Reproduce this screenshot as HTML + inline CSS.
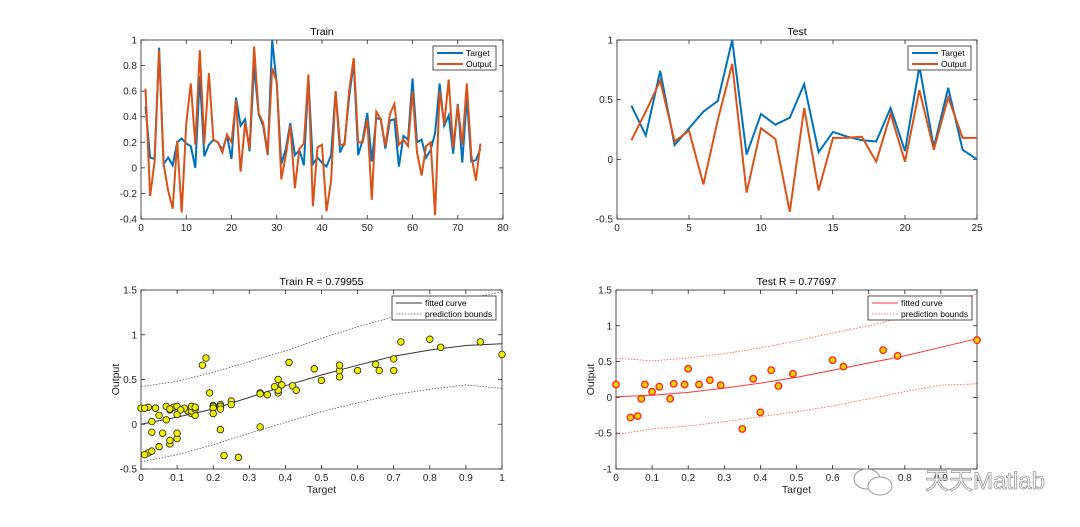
<!DOCTYPE html>
<html><head><meta charset="utf-8"><style>
body{margin:0;background:#fff;}
svg{display:block;font-family:"Liberation Sans",Arial,sans-serif;}
</style></head><body>
<svg id="fig" width="1080" height="527" viewBox="0 0 1080 527" xmlns="http://www.w3.org/2000/svg">
<rect width="1080" height="527" fill="#fff"/>
</svg>
<script>
const trainTarget=[.48,.08,.07,.94,.03,.08,.02,.2,.23,.19,.17,0,.72,.09,.18,.22,.2,.14,.25,.07,.55,.33,.38,.13,.8,.42,.33,.1,1.0,.65,.03,.15,.35,.1,.14,.02,.7,.03,.08,.04,.01,.1,.6,.12,.2,.55,.83,.1,.22,.43,.05,.39,.38,.15,.37,.38,.01,.25,.22,.7,.2,.22,.08,.14,.27,.66,.33,.41,.11,.5,.04,.55,.05,.06,.15];
const trainOutput=[.62,-.22,.05,.92,.03,-.18,-.32,.21,-.35,.35,.66,.18,.92,.19,.74,.22,.2,.12,.26,.2,.53,-.03,.35,.15,.95,.43,.35,.11,.78,.67,-.09,.1,.33,-.16,.15,.19,.73,-.3,.16,.18,-.34,-.1,.6,.18,.18,.6,.86,.2,.2,.38,-.25,.44,.38,.17,.42,.5,.18,.22,.17,.6,.12,-.06,.17,.2,-.37,.6,.34,.69,.16,.49,.18,.66,.1,-.1,.19];
const testTarget=[.45,.2,.74,.12,.26,.4,.49,1.0,.04,.38,.29,.35,.63,.06,.23,.19,.16,.15,.43,.07,.78,.1,.6,.08,0];
const testOutput=[.16,.4,.66,.15,.24,-.21,.33,.8,-.28,.26,.17,-.44,.43,-.26,.18,.18,.19,-.02,.38,-.02,.58,.08,.52,.18,.18];
const fitX=[0,.1,.2,.3,.4,.5,.6,.7,.8,.9,1];
const trainFit=[0,.08,.17,.3,.43,.55,.66,.76,.83,.88,.9];
const trainUpper=[.42,.48,.58,.7,.82,.96,1.09,1.2,1.3,1.4,1.48];
const trainLower=[-.42,-.34,-.23,-.1,.02,.14,.24,.33,.39,.44,.4];
const testFit=[.01,.03,.07,.13,.2,.28,.38,.48,.58,.7,.82];
const testUpper=[.55,.51,.55,.61,.69,.79,.9,1.0,1.12,1.28,1.45];
const testLower=[-.52,-.44,-.4,-.34,-.27,-.2,-.12,-.02,.08,.17,.19];
const trainXTicks=[0,10,20,30,40,50,60,70,80];
const trainYTicks=[-0.4,-0.2,0,0.2,0.4,0.6,0.8,1];
const testXTicks=[0,5,10,15,20,25];
const testYTicks=[-0.5,0,0.5,1];
const scXTicks=[0,.1,.2,.3,.4,.5,.6,.7,.8,.9,1];
const scTrainYTicks=[-0.5,0,0.5,1,1.5];
const scTestYTicks=[-1,-0.5,0,0.5,1,1.5];

const NS="http://www.w3.org/2000/svg";
const svg=document.getElementById('fig');
function el(tag,attrs,parent,name,txt){const e=document.createElementNS(NS,tag);for(const k in attrs)e.setAttribute(k,attrs[k]);


if(txt!==undefined)e.textContent=txt;(parent||svg).appendChild(e);return e;}
function fmt(v){return String(Math.round(v*10)/10);}
function axes(o){
 const g=el('g',{},svg,o.name);
 const sx=v=>o.x0+(v-o.xmin)/(o.xmax-o.xmin)*(o.x1-o.x0);
 const sy=v=>o.y1-(v-o.ymin)/(o.ymax-o.ymin)*(o.y1-o.y0);
 el('rect',{x:o.x0,y:o.y0,width:o.x1-o.x0,height:o.y1-o.y0,fill:'#fff',stroke:'#262626','stroke-width':0.8},g,'plot-area');
 o.xt.forEach(v=>{const x=sx(v);el('line',{x1:x,x2:x,y1:o.y1,y2:o.y1-4,stroke:'#262626','stroke-width':0.8},g,'x-tick');el('line',{x1:x,x2:x,y1:o.y0,y2:o.y0+4,stroke:'#262626','stroke-width':0.8},g,'x-tick');
  el('text',{x:x,y:o.y1+12,'font-size':10,'text-anchor':'middle',fill:'#262626'},g,'x-tick-label',fmt(v));});
 o.yt.forEach(v=>{const y=sy(v);el('line',{x1:o.x0,x2:o.x0+4,y1:y,y2:y,stroke:'#262626','stroke-width':0.8},g,'y-tick');el('line',{x1:o.x1,x2:o.x1-4,y1:y,y2:y,stroke:'#262626','stroke-width':0.8},g,'y-tick');
  el('text',{x:o.x0-4,y:y+3.5,'font-size':10,'text-anchor':'end',fill:'#262626'},g,'y-tick-label',fmt(v));});
 el('text',{x:(o.x0+o.x1)/2,y:o.y0-5,'font-size':10.5,'text-anchor':'middle',fill:'#000'},g,'chart-title',o.title);
 if(o.xl)el('text',{x:(o.x0+o.x1)/2,y:o.y1+24,'font-size':10.5,'text-anchor':'middle',fill:'#262626'},g,'x-axis-title',o.xl);
 if(o.yl)el('text',{x:0,y:0,'font-size':10.5,'text-anchor':'middle',fill:'#262626',transform:`translate(${o.x0-22},${(o.y0+o.y1)/2}) rotate(-90)`},g,'y-axis-title',o.yl);
 return {g,sx,sy};
}
function poly(a,xs,ys,attrs,name){const pts=xs.map((x,i)=>a.sx(x).toFixed(1)+','+a.sy(ys[i]).toFixed(1)).join(' ');return el('polyline',Object.assign({points:pts,fill:'none'},attrs),a.g,name);}
function legend(a,x,y,w,items){const g=el('g',{},a.g,'legend');el('rect',{x:x,y:y,width:w,height:24,fill:'#fff',stroke:'#262626','stroke-width':0.8},g,'legend-box');
 items.forEach((it,i)=>{const yy=y+7+i*11;el('line',Object.assign({x1:x+4,x2:x+30,y1:yy,y2:yy},it.s),g,'legend-swatch');el('text',{x:x+33,y:yy+3,'font-size':8.5,fill:'#000'},g,'legend-entry',it.t);});}
const idx1=trainTarget.map((_,i)=>i+1), idx2=testTarget.map((_,i)=>i+1);
const BL='#0072BD',RD='#D95319';
// Train line
let a=axes({name:'train-line-chart',x0:141,x1:503,y0:40,y1:219,xmin:0,xmax:80,ymin:-0.4,ymax:1,xt:trainXTicks,yt:trainYTicks,title:'Train'});
poly(a,idx1,trainTarget,{stroke:BL,'stroke-width':2},'target-line');
poly(a,idx1,trainOutput,{stroke:RD,'stroke-width':2},'output-line');
legend(a,433,46,63,[{t:'Target',s:{stroke:BL,'stroke-width':2}},{t:'Output',s:{stroke:RD,'stroke-width':2}}]);
// Test line
a=axes({name:'test-line-chart',x0:617,x1:977,y0:40,y1:219,xmin:0,xmax:25,ymin:-0.5,ymax:1,xt:testXTicks,yt:testYTicks,title:'Test'});
poly(a,idx2,testTarget,{stroke:BL,'stroke-width':2},'target-line');
poly(a,idx2,testOutput,{stroke:RD,'stroke-width':2},'output-line');
legend(a,908,46,63,[{t:'Target',s:{stroke:BL,'stroke-width':2}},{t:'Output',s:{stroke:RD,'stroke-width':2}}]);
// Train scatter
a=axes({name:'train-scatter-chart',x0:141,x1:502,y0:290,y1:469,xmin:0,xmax:1,ymin:-0.5,ymax:1.5,xt:scXTicks,yt:scTrainYTicks,title:'Train  R = 0.79955',xl:'Target',yl:'Output'});
poly(a,fitX,trainUpper,{stroke:'#555','stroke-width':0.8,'stroke-dasharray':'1.5,1.5'},'upper-bound');
poly(a,fitX,trainLower,{stroke:'#555','stroke-width':0.8,'stroke-dasharray':'1.5,1.5'},'lower-bound');
poly(a,fitX,trainFit,{stroke:'#333','stroke-width':1},'fitted-curve');
trainTarget.forEach((t,i)=>{el('circle',{cx:a.sx(t),cy:a.sy(trainOutput[i]),r:3.3,fill:'#f0f000',stroke:'#222','stroke-width':0.8},a.g,'train-point');});
legend(a,392,296,104,[{t:'fitted curve',s:{stroke:'#333','stroke-width':1}},{t:'prediction bounds',s:{stroke:'#555','stroke-width':0.8,'stroke-dasharray':'1.5,1.5'}}]);
// Test scatter
a=axes({name:'test-scatter-chart',x0:616,x1:977,y0:290,y1:469,xmin:0,xmax:1,ymin:-1,ymax:1.5,xt:scXTicks,yt:scTestYTicks,title:'Test  R = 0.77697',xl:'Target',yl:'Output'});
poly(a,fitX,testUpper,{stroke:'#f55','stroke-width':0.8,'stroke-dasharray':'1.5,1.5'},'upper-bound');
poly(a,fitX,testLower,{stroke:'#f55','stroke-width':0.8,'stroke-dasharray':'1.5,1.5'},'lower-bound');
poly(a,fitX,testFit,{stroke:'#f33','stroke-width':1},'fitted-curve');
testTarget.forEach((t,i)=>{el('circle',{cx:a.sx(t),cy:a.sy(testOutput[i]),r:3.3,fill:'#f0d000',stroke:'#f22','stroke-width':1.3},a.g,'test-point');});
legend(a,868,296,104,[{t:'fitted curve',s:{stroke:'#f33','stroke-width':1}},{t:'prediction bounds',s:{stroke:'#f55','stroke-width':0.8,'stroke-dasharray':'1.5,1.5'}}]);
// watermark
el('text',{x:1045,y:489,'font-size':24,'text-anchor':'end',fill:'#fff',stroke:'#999','stroke-width':0.8,'font-family':'"Liberation Sans","Noto Sans CJK SC",sans-serif'},svg,'watermark','天天Matlab');
el('ellipse',{cx:867,cy:479,rx:13,ry:10,fill:'#fff',stroke:'#999','stroke-width':1},svg,'watermark-icon');
el('ellipse',{cx:880,cy:486,rx:12,ry:9,fill:'#fff',stroke:'#999','stroke-width':1},svg,'watermark-icon');
</script>
</body></html>
